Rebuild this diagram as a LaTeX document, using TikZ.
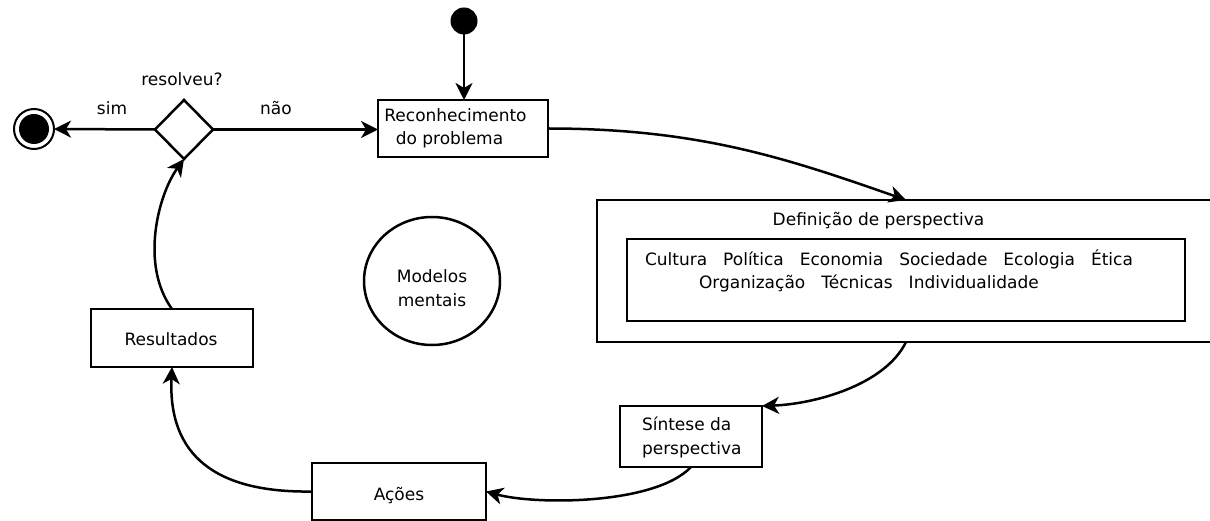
\documentclass[tikz,border=0pt]{standalone}
\usepackage{fontspec}
\setmainfont{DejaVu Sans}
\usetikzlibrary{arrows.meta,shapes.geometric}
\begin{document}
\begin{tikzpicture}[x=1pt,y=-1pt,
  every node/.style={font=\fontsize{17}{23}\selectfont, inner sep=0pt, outer sep=0pt},
  txt/.style={anchor=base},
  txtw/.style={anchor=base west},
  box/.style={draw, line width=2.5pt, rectangle},
  conn/.style={line width=2.5pt, -{Stealth[length=17pt,width=17pt,inset=5pt]}}]
\useasboundingbox (0,0) rectangle (1210,521);

% shapes
\node[circle, fill=black, minimum size=27pt] (start) at (464,21) {};
\node[circle, draw, line width=2pt, minimum size=40pt] (end) at (34,129) {};
\node[circle, fill=black, minimum size=30pt] (endin) at (end.center) {};
\node[diamond, draw, line width=2.5pt, minimum width=58pt, minimum height=59pt] (dia) at (184,129.5) {};
\node[box, minimum width=170pt, minimum height=57pt] (rec) at (463,128.5) {};
\node[box, minimum width=618pt, minimum height=142pt] (def) at (906,271) {};
\node[box, minimum width=558pt, minimum height=82pt] (inner) at (906,280) {};
\node[ellipse, draw, line width=2.5pt, minimum width=136pt, minimum height=128pt] (mod) at (432,281) {};
\node[box, minimum width=142pt, minimum height=61pt] (sin) at (691,436.5) {};
\node[box, minimum width=174pt, minimum height=57pt] (aco) at (399,491.5) {};
\node[box, minimum width=162pt, minimum height=58pt] (res) at (172,338) {};

% texts
\node[txt] (tq) at (182,86) {resolveu?};
\node[txt] (tsim) at (112,115) {sim};
\node[txt] (tnao) at (276,115) {não};
\node[txt] (rec1) at (455.5,122) {Reconhecimento};
\node[txt] (rec2) at (449.5,145) {do problema};
\node[txt] (deft) at (878.5,226) {Definição de perspectiva};
\node[txtw] (l1) at (645,266) {Cultura\hspace{16pt}Política\hspace{16pt}Economia\hspace{16pt}Sociedade\hspace{16pt}Ecologia\hspace{16pt}Ética};
\node[txtw] (l2) at (699,289) {Organização\hspace{16pt}Técnicas\hspace{16pt}Individualidade};
\node[txt] (mod1) at (432,283) {Modelos};
\node[txt] (mod2) at (432,306) {mentais};
\node[txtw] (sin1) at (642,430) {Síntese da};
\node[txtw] (sin2) at (642,454) {perspectiva};
\node[txt] (acot) at (399,500) {Ações};
\node[txt] (rest) at (171,345) {Resultados};

% connectors
\draw[conn] (start) -- (start |- rec.north);
\draw[conn] (dia.west) -- (end.east);
\draw[conn] (dia.east) -- (dia.east -| rec.west);
\draw[conn] (rec.east) .. controls (698,128.5) and (786,158) .. (def.north);
\draw[conn] (def.south) .. controls (885,385) and (815,404) .. (sin.north east);
\draw[conn] (sin.south) .. controls (655,505) and (535,505) .. (aco.east);
\draw[conn] (aco.west) .. controls (215,493) and (168,455) .. (res.south);
\draw[conn] (res.north) .. controls (140,265) and (158,195) .. (dia.south);
\end{tikzpicture}
\end{document}
